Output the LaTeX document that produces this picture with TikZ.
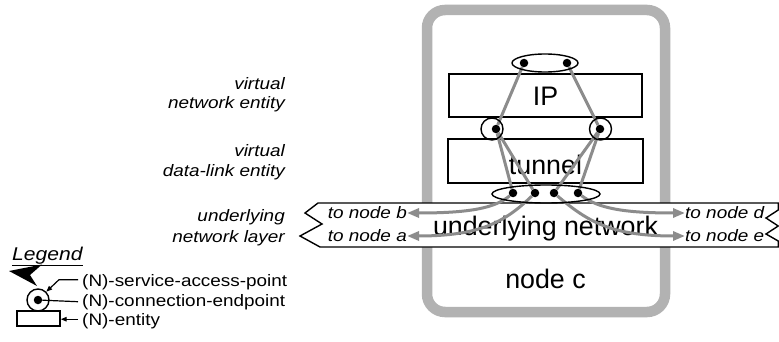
\documentclass[tikz,border=0pt]{standalone}
\usepackage{fontspec}
\setmainfont{Liberation Sans}
\newfontfamily\widesans{Liberation Sans}[FakeStretch=1.14]
\usetikzlibrary{arrows.meta,shapes.geometric}
\pgfdeclarelayer{back}
\pgfdeclarelayer{mid}
\pgfsetlayers{back,mid,main}

\tikzset{
  frame/.style={draw=black!30, line width=10.5pt, rounded corners=18pt},
  entitybox/.style={draw, line width=1.4pt, fill=white, inner sep=0},
  sap/.style={draw, ellipse, line width=1.4pt, inner sep=0},
  cep/.style={circle, fill=black, inner sep=0, minimum size=8.5pt},
  link/.style={draw=black!45, line width=3pt},
  linkarrow/.style={link, -{Triangle[length=12pt,width=9pt]}},
  bigtext/.style={font=\fontsize{26.8}{31}\selectfont, inner sep=0},
  lbl/.style={font=\widesans\itshape\fontsize{16.6}{19}\selectfont, inner sep=0},
  legtext/.style={font=\widesans\fontsize{16.6}{19}\selectfont, inner sep=0},
  legline/.style={draw, line width=1.2pt},
  legarrow/.style={legline, -{Triangle[length=6pt,width=4.5pt]}},
}

\begin{document}
\begin{tikzpicture}[x=1pt,y=-1pt]
\useasboundingbox (0,0) rectangle (779,342);

\begin{pgfonlayer}{back}
  \fill[white] (0,0) rectangle (779,342);

  % node c
  \draw[frame] (427,10) rectangle (665,312);
  \node[bigtext, anchor=base] (nodec) at (545.5,288) {node c};

  % underlying network band with torn ends
  \draw[line width=1.4pt, fill=white]
    (318,203) -- (778.2,203) -- (778.2,210) -- (766,218) -- (778.2,226)
    -- (766,234) -- (778.2,241) -- (778.2,247) -- (320,247) -- (300,236)
    -- (322,224) -- (305,213) -- cycle;
  \node[bigtext, anchor=base] (under) at (545.5,235) {underlying network};
  \node[lbl, anchor=east] (tb) at (407,213) {to node b};
  \node[lbl, anchor=east] (ta) at (407,236) {to node a};
  \node[lbl, anchor=west] (td) at (685,213) {to node d};
  \node[lbl, anchor=west] (te) at (685,236) {to node e};

  % entities
  \node[entitybox, minimum width=193pt, minimum height=43pt] (ip) at (545.5,95.5) {};
  \node[bigtext, anchor=base] (iptext) at (545.5,106) {IP};
  \node[entitybox, minimum width=195pt, minimum height=44pt] (tun) at (545.5,161) {};
  \node[bigtext, anchor=base] (tuntext) at (545.5,175) {tunnel};

  % layer labels
  \node[lbl, anchor=base east] (v1a) at (285,90) {virtual};
  \node[lbl, anchor=base east] (v1b) at (285,109) {network entity};
  \node[lbl, anchor=base east] (v2a) at (285,157) {virtual};
  \node[lbl, anchor=base east] (v2b) at (285,176) {data-link entity};
  \node[lbl, anchor=base east] (v3a) at (285,221) {underlying};
  \node[lbl, anchor=base east] (v3b) at (285,242) {network layer};
\end{pgfonlayer}

% service access points
\node[sap, minimum width=66pt, minimum height=18pt] (sapT) at (545,63) {};
\node[sap, minimum width=22pt, minimum height=22pt] (sapL) at (492,129) {};
\node[sap, minimum width=22pt, minimum height=22pt] (sapR) at (600.5,129) {};
\node[sap, minimum width=108pt, minimum height=18pt] (sapB) at (546,194) {};

% connection endpoints
\node[cep] (t1) at (524,63) {};
\node[cep] (t2) at (567,63) {};
\node[cep] (l1) at (496,129) {};
\node[cep] (r1) at (600,129) {};
\node[cep] (b1) at (513,193) {};
\node[cep] (b2) at (535,193) {};
\node[cep] (b3) at (554,193) {};
\node[cep] (b4) at (578,193) {};

\begin{pgfonlayer}{mid}
  \draw[link] (t1) -- (l1);
  \draw[link] (t2) -- (r1);
  \draw[link] (l1) -- (b1);
  \draw[link] (l1) -- (b2);
  \draw[link] (r1) -- (b3);
  \draw[link] (r1) -- (b4);
  \draw[linkarrow] (b1) .. controls (495,208) and (470,213) .. (tb.east);
  \draw[linkarrow] (b2) .. controls (505,222) and (480,236) .. (ta.east);
  \draw[linkarrow] (b3) .. controls (588,222) and (612,236) .. (te.west);
  \draw[linkarrow] (b4) .. controls (598,208) and (622,213) .. (td.west);
\end{pgfonlayer}

% legend
\node[font=\widesans\itshape\fontsize{18.5}{21}\selectfont, anchor=base west, inner sep=0] (leg) at (12,260) {Legend};
\draw[line width=1.4pt] ([yshift=-1.5pt]leg.south west) -- ([yshift=-1.5pt]leg.south east);
\fill (9,271) -- (42,264.5) -- (30,275) -- (37,286) -- cycle;

\node[entitybox, minimum width=43pt, minimum height=15pt] (legent) at (38.5,318.5) {};
\node[sap, minimum width=22pt, minimum height=22pt] (legsap) at (38,300) {};
\node[cep] (legcep) at (38,300) {};
\node[legtext, anchor=base west] (lsap) at (82,286) {(N)-service-access-point};
\node[legtext, anchor=base west] (lcep) at (82,306) {(N)-connection-endpoint};
\node[legtext, anchor=base west] (lent) at (82,325) {(N)-entity};
\coordinate (sapfoot) at ([xshift=-4pt,yshift=2pt]lsap.west);
\coordinate (entfoot) at ([xshift=-4pt,yshift=1.5pt]lent.west);
\draw[legarrow] (sapfoot) -- ++(-19,0) -- (legsap.45);
\draw[legline] ([xshift=-4pt]lcep.west) -- (legcep);
\draw[legarrow] (entfoot) -- (entfoot -| legent.east);
\end{tikzpicture}
\end{document}
